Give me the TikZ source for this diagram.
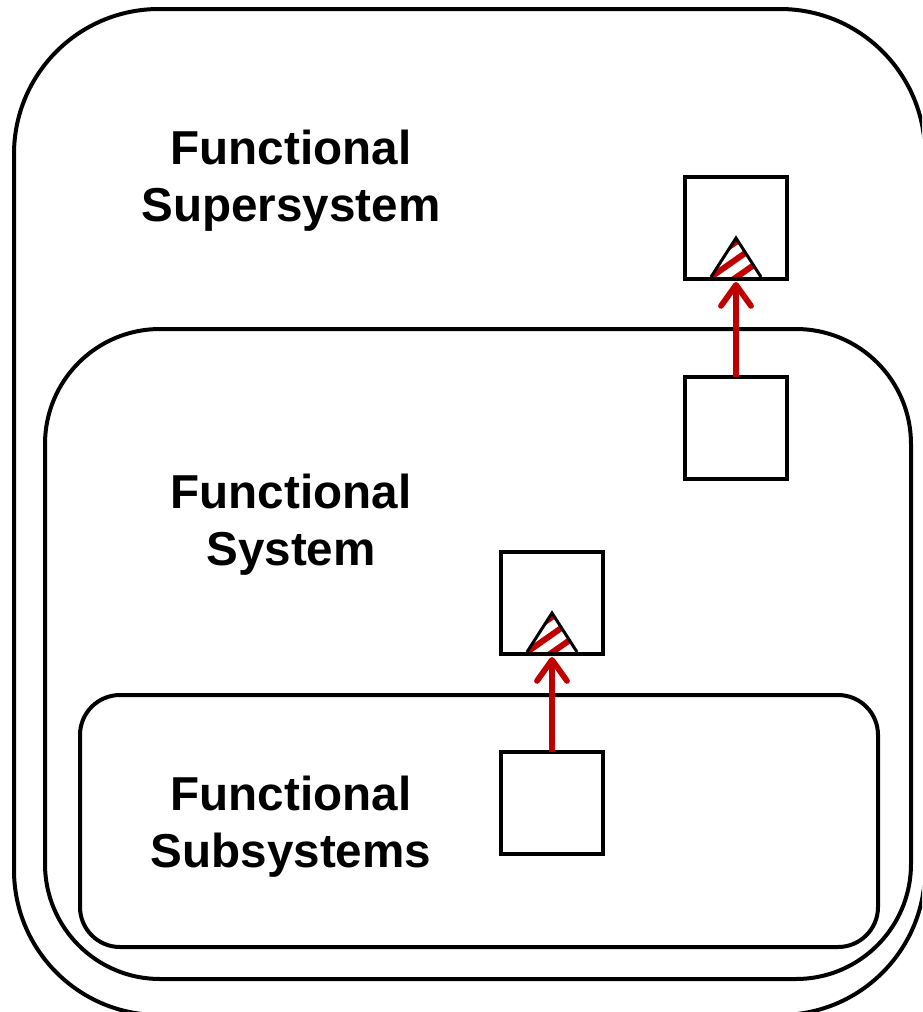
\documentclass[tikz,border=0pt]{standalone}
\usepackage{fontspec}
\setmainfont{Liberation Sans}
\usetikzlibrary{arrows.meta}
\definecolor{arrowred}{HTML}{C00000}
\tikzset{
  x=1pt,y=-1pt,
  group/.style={draw=black,line width=4pt,fill=none,rectangle,inner sep=0pt,outer sep=0pt},
  unit/.style={draw=black,line width=4.2pt,fill=white,rectangle,inner sep=0pt,outer sep=0pt,minimum width=102pt,minimum height=102pt},
  title/.style={font=\fontsize{47.6pt}{57pt}\selectfont\bfseries,align=center,text=black,inner sep=0pt},
  link/.style={draw=arrowred,line width=5.2pt,-{Straight Barb[round,length=21pt,width=30pt,line width=5.8pt]}},
  tri/.style={draw=black,line width=3pt,line join=miter},
  stripe/.style={draw=arrowred,line width=6pt}
}
\newcommand{\hatchtri}[2]{%
  \begin{scope}
    \clip (#1-25,#2) -- (#1,#2-39) -- (#1+25,#2) -- cycle;
    \foreach \d in {-35,-17.5,0.5}{\draw[stripe] (#1-30,#2+\d+21) -- ++(60,-42);}
  \end{scope}
  \draw[tri] (#1-25,#2) -- (#1,#2-39) -- (#1+25,#2);
}
\begin{document}
\begin{tikzpicture}
\useasboundingbox (0,0) rectangle (922,1012);
\clip (0,0) rectangle (922,1012);
\node[group,rounded corners=145pt,minimum width=911pt,minimum height=1006pt] (outer) at (469.5,512) {};
\node[group,rounded corners=115pt,minimum width=866pt,minimum height=650pt] (middle) at (478,654) {};
\node[group,rounded corners=40pt,minimum width=798pt,minimum height=252pt] (inner) at (479,821) {};
\node[title] (tsuper) at (291,181) {Functional\\Supersystem};
\node[title] (tsys) at (291,525) {Functional\\System};
\node[title] (tsub) at (291,827) {Functional\\Subsystems};
\node[unit] (a) at (736,228) {};
\node[unit] (b) at (736,428) {};
\node[unit] (c) at (552,603) {};
\node[unit] (d) at (552,803) {};
\hatchtri{736}{277}
\hatchtri{552}{652}
\draw[link] (b.north) -- ([yshift=-3pt]a.south);
\draw[link] (d.north) -- ([yshift=-3pt]c.south);
\end{tikzpicture}
\end{document}
